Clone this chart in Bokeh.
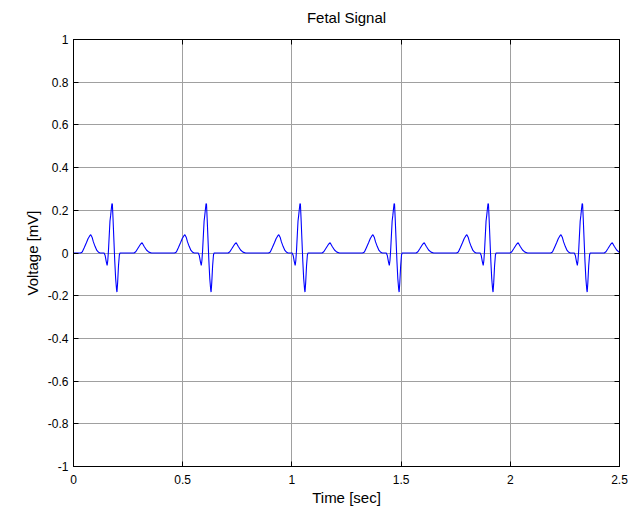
from bokeh.plotting import figure
from bokeh.models import (FixedTicker, CustomJSTickFormatter, LinearAxis, Range1d,
                          ColumnDataSource, CustomLabelingPolicy)
from bokeh.embed import file_html
from bokeh.resources import INLINE

# ---- data ----
# time of each R peak (s)
beat_r_times = [0.177, 0.608, 1.038, 1.469, 1.899, 2.330]
# one heartbeat waveform, time offset from the R peak (s) and voltage (mV)
wave_offsets = [-0.145, -0.137, -0.128, -0.118, -0.110, -0.103, -0.098, -0.092,
                -0.086, -0.078, -0.070, -0.062, -0.055, -0.037, -0.032, -0.027,
                -0.023, -0.020, -0.017, -0.013, -0.010, -0.007, -0.004, -0.001,
                0.001, 0.004, 0.008, 0.012, 0.016, 0.020, 0.022, 0.025,
                0.029, 0.033, 0.036, 0.100, 0.108, 0.118, 0.129, 0.137,
                0.146, 0.157, 0.168, 0.180]
wave_values = [0.000, 0.005, 0.025, 0.048, 0.068, 0.080, 0.086, 0.074,
               0.052, 0.030, 0.012, 0.003, 0.000, 0.000, -0.012, -0.040,
               -0.058, -0.035, 0.010, 0.090, 0.150, 0.175, 0.205, 0.232,
               0.228, 0.160, 0.060, -0.040, -0.120, -0.170, -0.183, -0.140,
               -0.060, -0.008, 0.000, 0.000, 0.006, 0.022, 0.040, 0.048,
               0.032, 0.014, 0.004, 0.000]
start_time = [0.0]
start_value = [0.0]

x_ticks = [0, 0.5, 1, 1.5, 2, 2.5]
y_ticks = [-1, -0.8, -0.6, -0.4, -0.2, 0, 0.2, 0.4, 0.6, 0.8, 1]

title_text = "Fetal Signal"
x_label = "Time [sec]"
y_label = "Voltage [mV]"

# ---- build series ----
t = list(start_time)
v = list(start_value)
for r in beat_r_times:
    for o, val in zip(wave_offsets, wave_values):
        t.append(r + o)
        v.append(val)
src = ColumnDataSource(data=dict(t=t, v=v))

FONT = "Liberation Sans"

p = figure(width=632, height=504, output_backend="svg", toolbar_location=None,
           x_range=Range1d(0, 2.5), y_range=Range1d(-1, 1),
           min_border_left=73, min_border_right=13, min_border_top=39, min_border_bottom=38,
           title=title_text)
p.frame_width = 546
p.frame_height = 427

p.line("t", "v", source=src, line_color="#0000ff", line_width=1.1)

fmt = CustomJSTickFormatter(code="return (Math.round(tick*10)/10).toString();")

for ax in (p.xaxis[0], p.yaxis[0]):
    ax.major_label_text_font = FONT
    ax.major_label_text_font_size = "12px"
    ax.major_label_text_color = "black"
    ax.axis_label_text_font = FONT
    ax.axis_label_text_font_size = "15px"
    ax.axis_label_text_font_style = "normal"
    ax.axis_label_text_color = "black"
    ax.axis_line_color = "black"
    ax.major_tick_line_color = "black"
    ax.major_tick_in = 5
    ax.major_tick_out = 0
    ax.minor_tick_line_color = None
    ax.formatter = fmt

p.xaxis[0].ticker = FixedTicker(ticks=x_ticks)
p.yaxis[0].ticker = FixedTicker(ticks=y_ticks)
p.xaxis[0].axis_label = x_label
p.yaxis[0].axis_label = y_label
p.xaxis[0].major_label_standoff = 8
p.yaxis[0].major_label_standoff = 5
p.xaxis[0].axis_label_standoff = 2
p.yaxis[0].axis_label_standoff = 4

no_labels = CustomLabelingPolicy(code="""
const all = Array.from(indices);
for (const i of all) indices.unset(i);
return indices;
""")

for ticks, loc in ((x_ticks, "above"), (y_ticks, "right")):
    ax = LinearAxis(ticker=FixedTicker(ticks=ticks))
    ax.major_label_policy = no_labels
    ax.major_label_standoff = 0
    ax.axis_line_color = "black"
    ax.major_tick_line_color = "black"
    ax.major_tick_in = 5
    ax.major_tick_out = 0
    ax.minor_tick_line_color = None
    p.add_layout(ax, loc)

p.xgrid.ticker = FixedTicker(ticks=x_ticks)
p.ygrid.ticker = FixedTicker(ticks=y_ticks)
p.grid.grid_line_color = "#a0a0a0"
p.grid.grid_line_width = 1

p.outline_line_color = "black"
p.background_fill_color = "white"
p.border_fill_color = "white"

p.title.align = "center"
p.title.text_font = FONT
p.title.text_font_size = "15px"
p.title.text_font_style = "normal"
p.title.text_color = "black"
p.title.standoff = 5

open("out.html", "w").write(file_html(p, INLINE))
